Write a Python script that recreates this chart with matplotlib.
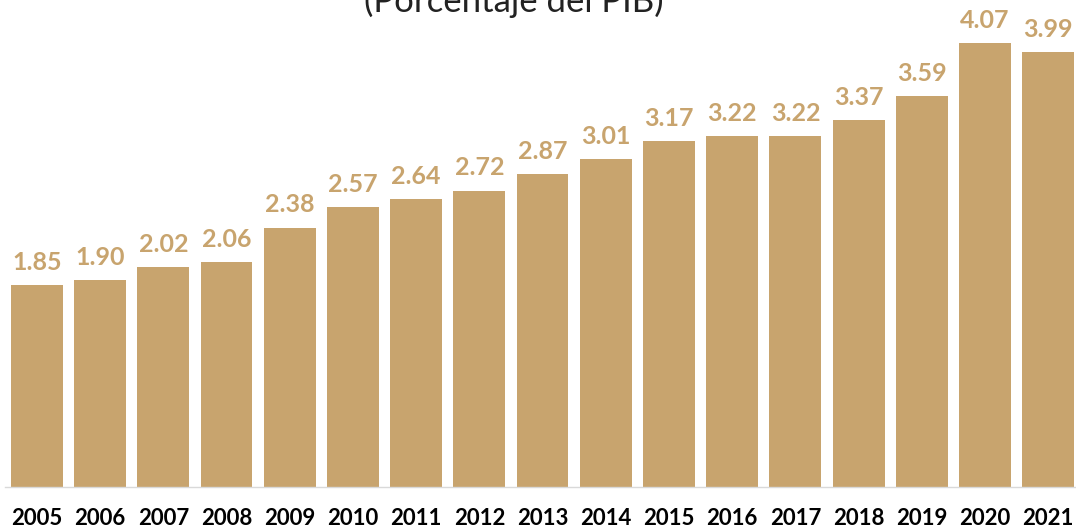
"""Gasto como porcentaje del PIB, 2005-2021 -> out.png"""
import matplotlib.pyplot as plt

BAR_COLOR = "#c8a46e"
LABEL_COLOR = "#c8a46e"
FONT = ["Lato", "DejaVu Sans"]

years = ["2005", "2006", "2007", "2008", "2009", "2010", "2011", "2012", "2013",
         "2014", "2015", "2016", "2017", "2018", "2019", "2020", "2021"]
values = [1.85, 1.90, 2.02, 2.06, 2.38, 2.57, 2.64, 2.72, 2.87,
          3.01, 3.17, 3.22, 3.22, 3.37, 3.59, 4.07, 3.99]


def main() -> None:
    fig = plt.figure(figsize=(10.76, 5.29), dpi=100, facecolor="white")
    # axes from x=5px to the right edge, bottom at y=487px from top
    ax = fig.add_axes([5 / 1076, 42 / 529, 1 - 5 / 1076, 487 / 529])
    x = list(range(len(years)))
    bars = ax.bar(x, values, width=0.82, color=BAR_COLOR)

    ax.set_xlim(-0.506, 16.44)
    ax.set_ylim(0, 487 / 109)

    for b, v in zip(bars, values):
        ax.annotate(
            f"{v:.2f}",
            xy=(b.get_x() + b.get_width() / 2, v),
            xytext=(0, 8),
            textcoords="offset points",
            ha="center",
            va="bottom",
            fontsize=18,
            fontweight="bold",
            color=LABEL_COLOR,
            family=FONT,
        )

    ax.set_xticks(x)
    ax.set_xticklabels(years, fontsize=16, fontweight="bold", family=FONT)
    ax.tick_params(axis="x", length=0, pad=15)
    ax.set_yticks([])
    for s in ("top", "right", "left"):
        ax.spines[s].set_visible(False)
    ax.spines["bottom"].set_color("#d9d9d9")
    ax.spines["bottom"].set_linewidth(1)

    # subtitle sits partly above the top edge of the canvas
    fig.text(
        514 / 1076,
        1 - 12.5 / 529,
        "(Porcentaje del PIB)",
        ha="center",
        va="baseline",
        fontsize=25,
        color="#222222",
        family=FONT,
    )

    fig.savefig("out.png", dpi=100, facecolor="white")
    plt.close(fig)


if __name__ == "__main__":
    main()
